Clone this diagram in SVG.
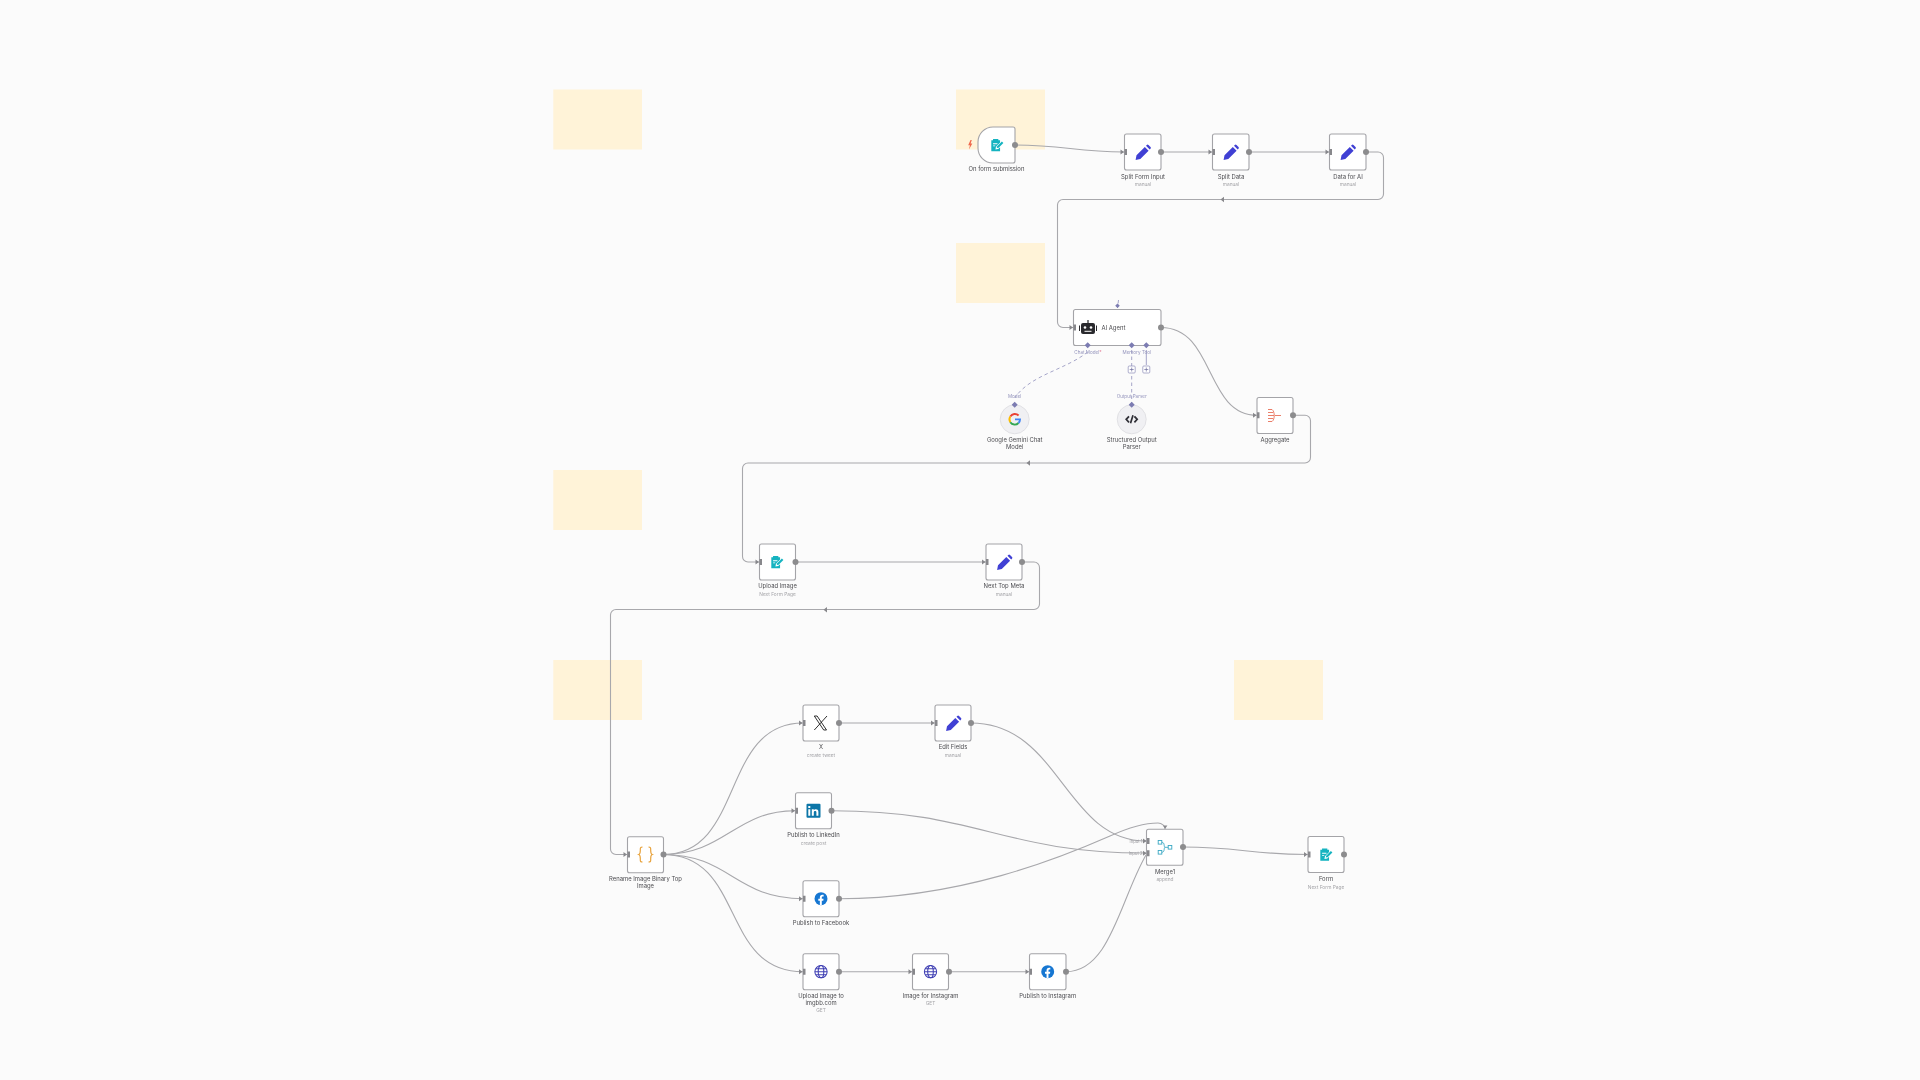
<svg xmlns="http://www.w3.org/2000/svg" width="1920" height="1080" viewBox="0 0 1920 1080">
<defs>
<style>
.bg{fill:#fbfbfb}
.sticky{fill:#fff3d8}
.box{fill:#fff;stroke:#a4a4a8;stroke-width:1.100}
.wire{fill:none;stroke:#a8a8ac;stroke-width:1.100}
.sub{fill:none;stroke:#a4a4c8;stroke-width:1}
.dash{stroke-dasharray:3.500 3}
.port{fill:#8c8c8e}
.inp{fill:#88888c}
.dia{fill:#7c7cb2}
.t{font-family:Inter,"Liberation Sans",sans-serif;font-size:5.900px;fill:#4c4c50;text-anchor:middle}
.s{font-family:Inter,"Liberation Sans",sans-serif;font-size:4.800px;fill:#a4a4a8;text-anchor:middle}
.p{font-family:Inter,"Liberation Sans",sans-serif;font-size:4.600px;fill:#9494bc;text-anchor:middle}
.q{font-family:Inter,"Liberation Sans",sans-serif;font-size:4.200px;fill:#9a9a9e;text-anchor:end}
.pen{fill:#4040d4}
.teal{fill:#12b3c0}
.glb{fill:none;stroke:#4040b4;stroke-width:1.200}
.fb{fill:#1877d2}
.mg{fill:none;stroke:#3aa8c4;stroke-width:.9}
</style>
<filter id="soft" filterUnits="userSpaceOnUse" x="0" y="0" width="1920" height="1080"><feGaussianBlur stdDeviation="0.35"/></filter>
<symbol id="pen" viewBox="0 0 16 16" overflow="visible"><path class="pen" d="M.6 15.400l.9-4.700L9.800 2.400l3.800 3.800-8.300 8.300zM11 1.300l.8-.8a1.200 1.200 0 0 1 1.700 0l2 2a1.200 1.200 0 0 1 0 1.700l-.8.8z"/></symbol>
<symbol id="form" viewBox="0 0 16 16" overflow="visible"><path class="teal" d="M1.500 2.500h2V1h6v1.500h2v2.700L6.800 10l-.6 3.200 3.200-.6 2.100-2.100v4.500H1.500z"/><path fill="#fff" d="M3.500 6h5v1h-5zM3.500 8.500h2.500v1H3.500z"/><path class="teal" d="M7.700 11.500l.5-2.200 5.400-5.300 1.700 1.700-5.400 5.300z"/></symbol>
<symbol id="fb" viewBox="0 0 16 16" overflow="visible"><circle class="fb" cx="8" cy="8" r="7.400"/><path fill="#fff" d="M6.700 15.300v-5.100H4.900V8h1.800V6.500c0-1.900 1.100-2.900 2.800-2.900.8 0 1.500.1 1.500.1v1.900h-.9c-.9 0-1.200.6-1.200 1.200V8h2l-.3 2.200H8.900v5.100z"/></symbol>
<symbol id="glb" viewBox="0 0 16 16" overflow="visible"><circle class="glb" cx="8" cy="8" r="7"/><ellipse class="glb" cx="8" cy="8" rx="3.200" ry="7"/><path class="glb" d="M1 8h14M2 4.600h12M2 11.400h12"/></symbol>
<symbol id="h" viewBox="0 0 7 7" overflow="visible"><path class="inp" d="M0 1l3.500 2.500L0 6zM4 .5h2.500v6H4z"/></symbol>
</defs>
<rect class="bg" width="1920" height="1080"/>
<g id="diagram" filter="url(#soft)">
<g id="stickies">
<rect class="sticky" x="553.300" y="89.500" width="88.700" height="60"/>
<rect class="sticky" x="956" y="89.500" width="89" height="60"/>
<rect class="sticky" x="956" y="243" width="89" height="60"/>
<rect class="sticky" x="553.300" y="470" width="88.700" height="60"/>
<rect class="sticky" x="553.300" y="660" width="88.700" height="60"/>
<rect class="sticky" x="1234" y="660" width="89" height="60"/>
</g>
<g id="connectors">
<path class="wire" d="M1015 145C1065 145 1075 152 1124 152"/>
<path class="wire" d="M1161 152H1212"/>
<path class="wire" d="M1249 152H1329"/>
<path class="wire" d="M1366 152H1378a5.500 5.500 0 0 1 5.500 5.500V194a5.500 5.500 0 0 1-5.500 5.500H1063a5.500 5.500 0 0 0-5.500 5.500V322a5.500 5.500 0 0 0 5.500 5.500H1073"/>
<path class="wire" d="M1161 327.500C1215 327.500 1205 415.300 1257 415.300"/>
<path class="wire" d="M1293 415.300H1305a5.500 5.500 0 0 1 5.500 5.500V457.500a5.500 5.500 0 0 1-5.500 5.500H748a5.500 5.500 0 0 0-5.500 5.500V556.500a5.500 5.500 0 0 0 5.500 5.500H759"/>
<path class="wire" d="M795 562H986"/>
<path class="wire" d="M1022 562H1034a5.500 5.500 0 0 1 5.500 5.500V604a5.500 5.500 0 0 1-5.500 5.500H616a5.500 5.500 0 0 0-5.500 5.500V849a5.500 5.500 0 0 0 5.500 5.500H627"/>
<path class="wire" d="M663 854.500C745 854.500 720 723 803 723"/>
<path class="wire" d="M663 854.500C725 854.500 735 810.700 795 810.700"/>
<path class="wire" d="M663 854.500C730 854.500 735 898.700 803 898.700"/>
<path class="wire" d="M663 854.500C745 854.500 720 971.700 803 971.700"/>
<path class="wire" d="M839 723H935"/>
<path class="wire" d="M971 723C1060 723 1065 841 1146 841"/>
<path class="wire" d="M832 810.700C980 810.700 1000 853 1146 853"/>
<path class="wire" d="M839 898.700C960 898.700 1060 858 1110 836C1130 827 1145 823 1158 823C1162 823 1165 826 1165 829"/>
<path class="wire" d="M839 971.700H912"/>
<path class="wire" d="M949 971.700H1029"/>
<path class="wire" d="M1066 971.700C1110 971.700 1120 900 1146 855"/>
<path class="wire" d="M1183 847C1240 847 1250 854.500 1308 854.500"/>
<path class="sub dash" d="M1087.700 352C1065 370 1030 375 1014.700 398"/>
<path class="sub dash" d="M1131.700 350V404"/>
<path class="sub" d="M1146.300 350V365"/>
<path class="sub dash" d="M1118.500 300L1117.500 308"/>
<path class="inp" d="M1224 196.800v5.400l-3.500-2.700zM1030 460.300v5.400l-3.500-2.700zM827 607v5.400l-3.500-2.700z"/>
</g>
<g id="on-form-submission"><path class="box" d="M993 127H1013a2 2 0 0 1 2 2V161a2 2 0 0 1-2 2H993A15 15 0 0 1 978 148V142A15 15 0 0 1 993 127Z"/><use href="#form" x="990" y="138" width="14" height="14"/><circle class="port" cx="1015" cy="145" r="3"/><path fill="#f0674c" d="M970.500 140l-2.300 5.200h1.700l-.9 4.300 3.300-6h-1.700l1.200-3.500z"/><text class="t" x="996.500" y="171">On form submission</text></g>
<g id="split-form-input"><rect class="box" x="1124.500" y="134" width="36.500" height="36" rx="2"/><use href="#pen" x="1135" y="144.500" width="16" height="16"/><use href="#h" x="1120.500" y="148.500" width="7" height="7"/><circle class="port" cx="1161" cy="152" r="3"/><text class="t" x="1143" y="179">Split Form Input</text><text class="s" x="1143" y="186">manual</text></g>
<g id="split-data"><rect class="box" x="1212.500" y="134" width="36.500" height="36" rx="2"/><use href="#pen" x="1223" y="144.500" width="16" height="16"/><use href="#h" x="1208.500" y="148.500" width="7" height="7"/><circle class="port" cx="1249" cy="152" r="3"/><text class="t" x="1231" y="179">Split Data</text><text class="s" x="1231" y="186">manual</text></g>
<g id="data-for-ai"><rect class="box" x="1329.500" y="134" width="36.500" height="36" rx="2"/><use href="#pen" x="1340" y="144.500" width="16" height="16"/><use href="#h" x="1325.500" y="148.500" width="7" height="7"/><circle class="port" cx="1366" cy="152" r="3"/><text class="t" x="1348" y="179">Data for AI</text><text class="s" x="1348" y="186">manual</text></g>
<g id="ai-agent"><rect class="box" x="1073.500" y="309.500" width="87.500" height="36" rx="2"/>
<path fill="#2a2a2e" d="M1083 323h10a2 2 0 0 1 2 2v7a2 2 0 0 1-2 2h-10a2 2 0 0 1-2-2v-7a2 2 0 0 1 2-2zM1087.400 320h1.200v3h-1.200zM1079 325.500h1v5.500h-1zM1096 325.500h1v5.500h-1z"/><circle cx="1085" cy="327.500" r="1.300" fill="#fff"/><circle cx="1091" cy="327.500" r="1.300" fill="#fff"/><path fill="#fff" d="M1084.500 330.800h7v1h-7z"/>
<text class="t" x="1101.500" y="329.500" style="text-anchor:start">AI Agent</text>
<use href="#h" x="1069.500" y="324" width="7" height="7"/><circle class="port" cx="1161" cy="327.500" r="3"/>
<path class="dia" d="M1117.500 303.500l2.300 2.300-2.300 2.300-2.300-2.300zM1087.700 342.300l3 3-3 3-3-3zM1131.700 342.300l3 3-3 3-3-3zM1146.300 342.300l3 3-3 3-3-3z"/>
<text class="p" x="1088" y="353.500">Chat Model<tspan fill="#e0708c">*</tspan></text><text class="p" x="1131.500" y="353.500">Memory</text><text class="p" x="1146.500" y="353.500">Tool</text>
<rect x="1128.200" y="366" width="7" height="7" rx="1" fill="#fff" stroke="#8c8cb8" stroke-width=".7"/><path d="M1129.700 369.500h4M1131.700 367.500v4" stroke="#6c6c9c" stroke-width=".7"/>
<rect x="1142.800" y="366" width="7" height="7" rx="1" fill="#fff" stroke="#8c8cb8" stroke-width=".7"/><path d="M1144.300 369.500h4M1146.300 367.500v4" stroke="#6c6c9c" stroke-width=".7"/>
</g>
<g id="google-gemini"><circle cx="1014.700" cy="419.300" r="14.500" fill="#f0f0f3" stroke="#dcdce0" stroke-width=".8"/>
<g fill="none" stroke-width="1.900"><path stroke="#ea4335" d="M1018.600 415.500A5.300 5.300 0 0 0 1010.300 416.500"/><path stroke="#fbbc05" d="M1010.300 416.500A5.300 5.300 0 0 0 1010.300 422.200"/><path stroke="#34a853" d="M1010.300 422.200A5.300 5.300 0 0 0 1018.500 423"/><path stroke="#4285f4" d="M1018.500 423A5.300 5.300 0 0 0 1020 419.400H1015"/></g>
<path class="dia" d="M1014.700 401.700l3 3-3 3-3-3z"/><text class="p" x="1014.700" y="397.500">Model</text>
<text class="t" x="1014.700" y="442">Google Gemini Chat</text><text class="t" x="1014.700" y="449">Model</text></g>
<g id="structured-output-parser"><circle cx="1131.700" cy="419.300" r="14.500" fill="#f0f0f3" stroke="#dcdce0" stroke-width=".8"/>
<path fill="none" stroke="#2e2e36" stroke-width="1.700" d="M1129 416.300l-2.800 3 2.800 3M1134.400 416.300l2.800 3-2.800 3M1133 415.300l-2.500 8"/>
<path class="dia" d="M1131.700 401.700l3 3-3 3-3-3z"/><text class="p" x="1131.700" y="397.500">Output Parser</text>
<text class="t" x="1131.700" y="442">Structured Output</text><text class="t" x="1131.700" y="449">Parser</text></g>
<g id="aggregate"><rect class="box" x="1257" y="397.500" width="36" height="36" rx="2"/><path fill="none" stroke="#e8705a" stroke-width=".9" d="M1268 409.500h4M1268 412.500h5M1268 415.500h6M1268 418.500h5M1268 421.500h4M1272 409.500c3 2 3 10 0 12M1275 415.500h6"/><use href="#h" x="1253" y="411.800" width="7" height="7"/><circle class="port" cx="1293" cy="415.300" r="3"/><text class="t" x="1275" y="442">Aggregate</text></g>
<g id="upload-image"><rect class="box" x="759.500" y="544" width="36" height="36" rx="2"/><use href="#form" x="770" y="555" width="14" height="14"/><use href="#h" x="755.500" y="558.500" width="7" height="7"/><circle class="port" cx="795.500" cy="562" r="3"/><text class="t" x="777.500" y="588">Upload Image</text><text class="s" x="777.500" y="595.500">Next Form Page</text></g>
<g id="next-top-meta"><rect class="box" x="986" y="544" width="36" height="36" rx="2"/><use href="#pen" x="996.500" y="554.500" width="16" height="16"/><use href="#h" x="982" y="558.500" width="7" height="7"/><circle class="port" cx="1022" cy="562" r="3"/><text class="t" x="1004" y="588">Next Top Meta</text><text class="s" x="1004" y="595.500">manual</text></g>
<g id="rename-image"><rect class="box" x="627.500" y="836.700" width="36" height="36" rx="2"/><path fill="none" stroke="#e8a33d" stroke-width="1.200" d="M642.500 847c-2.500 0-2.200 1.300-2.200 3.500s0 3.500-1.500 4c1.500.5 1.500 1.500 1.500 4s-.3 3.500 2.200 3.500M648.500 847c2.500 0 2.200 1.300 2.200 3.500s0 3.500 1.500 4c-1.500.5-1.500 1.500-1.500 4s.3 3.500-2.200 3.500"/><use href="#h" x="623.500" y="851" width="7" height="7"/><circle class="port" cx="663.500" cy="854.500" r="3"/><text class="t" x="645.500" y="881">Rename Image Binary Top</text><text class="t" x="645.500" y="888">Image</text></g>
<g id="x"><rect class="box" x="803" y="705" width="36" height="36" rx="2"/><path fill="none" stroke="#1a1a1a" stroke-width=".9" d="M814.300 716h2.800l9.400 14h-2.800zM827 716l-12.700 14"/><use href="#h" x="799" y="719.500" width="7" height="7"/><circle class="port" cx="839" cy="723" r="3"/><text class="t" x="821" y="749">X</text><text class="s" x="821" y="756.500">create tweet</text></g>
<g id="edit-fields"><rect class="box" x="935" y="705" width="36" height="36" rx="2"/><use href="#pen" x="945.500" y="715.500" width="16" height="16"/><use href="#h" x="931" y="719.500" width="7" height="7"/><circle class="port" cx="971" cy="723" r="3"/><text class="t" x="953" y="749">Edit Fields</text><text class="s" x="953" y="756.500">manual</text></g>
<g id="publish-linkedin"><rect class="box" x="795.500" y="792.700" width="36" height="36" rx="2"/><rect x="806.500" y="803.700" width="14" height="14" rx="1" fill="#0b76a8"/><path fill="#fff" d="M808.300 809.300h2v6.500h-2zM808.300 806h2v2h-2zM811.800 809.300h2v1c.8-1.400 4.600-1.800 4.600 1.500v4h-2v-3.500c0-1.800-2.600-1.700-2.600.2v3.300h-2z"/><use href="#h" x="791.500" y="807.200" width="7" height="7"/><circle class="port" cx="831.500" cy="810.700" r="3"/><text class="t" x="813.500" y="837">Publish to LinkedIn</text><text class="s" x="813.500" y="844.500">create post</text></g>
<g id="publish-facebook"><rect class="box" x="803" y="880.700" width="36" height="36" rx="2"/><use href="#fb" x="814" y="891.700" width="14" height="14"/><use href="#h" x="799" y="895.200" width="7" height="7"/><circle class="port" cx="839" cy="898.700" r="3"/><text class="t" x="821" y="925">Publish to Facebook</text></g>
<g id="upload-imgbb"><rect class="box" x="803" y="953.700" width="36" height="36" rx="2"/><use href="#glb" x="814" y="964.700" width="14" height="14"/><use href="#h" x="799" y="968.200" width="7" height="7"/><circle class="port" cx="839" cy="971.700" r="3"/><text class="t" x="821" y="998">Upload Image to</text><text class="t" x="821" y="1005">imgbb.com</text><text class="s" x="821" y="1012">GET</text></g>
<g id="image-instagram"><rect class="box" x="912.500" y="953.700" width="36" height="36" rx="2"/><use href="#glb" x="923.500" y="964.700" width="14" height="14"/><use href="#h" x="908.500" y="968.200" width="7" height="7"/><circle class="port" cx="949" cy="971.700" r="3"/><text class="t" x="930.500" y="998">Image for Instagram</text><text class="s" x="930.500" y="1005">GET</text></g>
<g id="publish-instagram"><rect class="box" x="1029.500" y="953.700" width="36.500" height="36" rx="2"/><use href="#fb" x="1040.700" y="964.700" width="14" height="14"/><use href="#h" x="1025.500" y="968.200" width="7" height="7"/><circle class="port" cx="1066" cy="971.700" r="3"/><text class="t" x="1047.700" y="998">Publish to Instagram</text></g>
<g id="merge"><rect class="box" x="1146.500" y="829.300" width="36.500" height="36" rx="2"/><rect class="mg" x="1158.200" y="840.500" width="3.600" height="3.600"/><rect class="mg" x="1158.200" y="850.500" width="3.600" height="3.600"/><rect class="mg" x="1168.200" y="845.500" width="3.600" height="3.600"/><path class="mg" d="M1161.800 842.300c3.500 0 1.500 5 3.500 5h2.900M1161.800 852.300c3.500 0 1.500-5 3.500-5"/><use href="#h" x="1143" y="837.500" width="7" height="7"/><use href="#h" x="1143" y="849.800" width="7" height="7"/><path class="inp" d="M1163 825.500h4.400l-2.200 3.300z"/><circle class="port" cx="1183" cy="847" r="3"/><text class="q" x="1142.500" y="842.500">Input 1</text><text class="q" x="1142.500" y="854.800">Input 2</text><text class="t" x="1165" y="874">Merge1</text><text class="s" x="1165" y="881">append</text></g>
<g id="form-node"><rect class="box" x="1308" y="836.500" width="36" height="36" rx="2"/><use href="#form" x="1319" y="847.500" width="14" height="14"/><use href="#h" x="1304" y="851" width="7" height="7"/><circle class="port" cx="1344" cy="854.500" r="3"/><text class="t" x="1326" y="881">Form</text><text class="s" x="1326" y="888.500">Next Form Page</text></g>
</g>
</svg>
